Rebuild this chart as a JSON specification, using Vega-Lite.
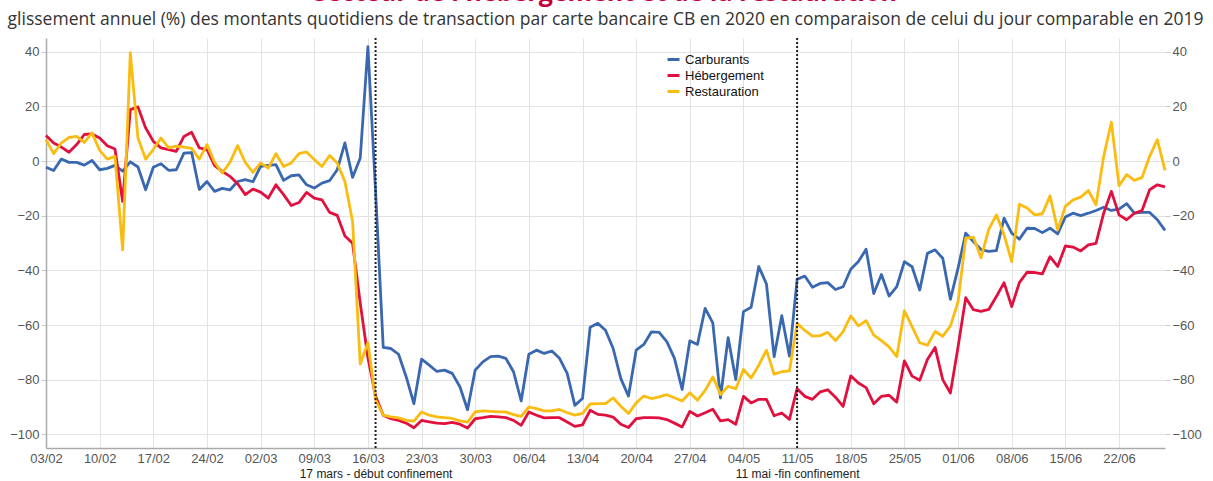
{
  "$schema": "https://vega.github.io/schema/vega-lite/v6.json",
  "width": 1119,
  "height": 410,
  "autosize": "none",
  "padding": {"left": 46, "top": 38, "right": 48, "bottom": 33},
  "background": "white",
  "title": {
    "text": "secteur de l'hébergement et de la restauration",
    "subtitle": "glissement annuel (%) des montants quotidiens de transaction par carte bancaire CB en 2020 en comparaison de celui du jour comparable en 2019",
    "anchor": "middle",
    "font": "Open Sans",
    "fontSize": 25,
    "fontWeight": "bold",
    "color": "#c4003c",
    "subtitleFont": "Open Sans",
    "subtitleFontSize": 17.5,
    "subtitleColor": "#333333",
    "subtitlePadding": 5,
    "offset": 9
  },
  "config": {
    "view": {"stroke": null},
    "axis": {"labelFont": "Liberation Sans", "labelColor": "#555555", "labelFontSize": 13, "gridColor": "#e3e3e3", "gridWidth": 1}
  },
  "datasets": {
    "series": [
      {"d":"2020-02-03","Carburants":-2.3,"Hébergement":9.3,"Restauration":7.8},
      {"d":"2020-02-04","Carburants":-3.5,"Hébergement":6.6,"Restauration":2.7},
      {"d":"2020-02-05","Carburants":0.7,"Hébergement":5.1,"Restauration":6.6},
      {"d":"2020-02-06","Carburants":-0.5,"Hébergement":3.2,"Restauration":8.6},
      {"d":"2020-02-07","Carburants":-0.5,"Hébergement":6.0,"Restauration":9.0},
      {"d":"2020-02-08","Carburants":-1.5,"Hébergement":9.7,"Restauration":6.8},
      {"d":"2020-02-09","Carburants":0.2,"Hébergement":9.9,"Restauration":10.3},
      {"d":"2020-02-10","Carburants":-3.2,"Hébergement":8.4,"Restauration":3.9},
      {"d":"2020-02-11","Carburants":-2.7,"Hébergement":5.6,"Restauration":0.7},
      {"d":"2020-02-12","Carburants":-1.6,"Hébergement":4.4,"Restauration":1.7},
      {"d":"2020-02-13","Carburants":-3.7,"Hébergement":-14.8,"Restauration":-32.5},
      {"d":"2020-02-14","Carburants":-0.3,"Hébergement":18.8,"Restauration":39.6},
      {"d":"2020-02-15","Carburants":-2.2,"Hébergement":19.8,"Restauration":8.4},
      {"d":"2020-02-16","Carburants":-10.5,"Hébergement":12.1,"Restauration":0.7},
      {"d":"2020-02-17","Carburants":-2.3,"Hébergement":7.2,"Restauration":4.2},
      {"d":"2020-02-18","Carburants":-1.0,"Hébergement":4.8,"Restauration":8.4},
      {"d":"2020-02-19","Carburants":-3.4,"Hébergement":4.2,"Restauration":4.8},
      {"d":"2020-02-20","Carburants":-3.2,"Hébergement":3.5,"Restauration":5.4},
      {"d":"2020-02-21","Carburants":2.9,"Hébergement":9.0,"Restauration":5.1},
      {"d":"2020-02-22","Carburants":3.1,"Hébergement":10.5,"Restauration":4.6},
      {"d":"2020-02-23","Carburants":-10.4,"Hébergement":4.8,"Restauration":0.7},
      {"d":"2020-02-24","Carburants":-7.5,"Hébergement":4.2,"Restauration":6.0},
      {"d":"2020-02-25","Carburants":-11.1,"Hébergement":-1.7,"Restauration":-0.5},
      {"d":"2020-02-26","Carburants":-10.0,"Hébergement":-3.8,"Restauration":-4.4},
      {"d":"2020-02-27","Carburants":-10.6,"Hébergement":-5.6,"Restauration":-0.5},
      {"d":"2020-02-28","Carburants":-7.5,"Hébergement":-8.3,"Restauration":5.6},
      {"d":"2020-02-29","Carburants":-6.8,"Hébergement":-12.3,"Restauration":-0.5},
      {"d":"2020-03-01","Carburants":-7.6,"Hébergement":-10.3,"Restauration":-4.2},
      {"d":"2020-03-02","Carburants":-2.0,"Hébergement":-11.4,"Restauration":-0.7},
      {"d":"2020-03-03","Carburants":-1.6,"Hébergement":-13.6,"Restauration":-2.6},
      {"d":"2020-03-04","Carburants":-1.3,"Hébergement":-8.7,"Restauration":2.7},
      {"d":"2020-03-05","Carburants":-7.1,"Hébergement":-12.3,"Restauration":-2.0},
      {"d":"2020-03-06","Carburants":-5.4,"Hébergement":-16.3,"Restauration":-0.7},
      {"d":"2020-03-07","Carburants":-5.1,"Hébergement":-15.2,"Restauration":2.7},
      {"d":"2020-03-08","Carburants":-8.7,"Hébergement":-11.5,"Restauration":3.3},
      {"d":"2020-03-09","Carburants":-9.9,"Hébergement":-13.6,"Restauration":0.5},
      {"d":"2020-03-10","Carburants":-8.1,"Hébergement":-14.2,"Restauration":-2.0},
      {"d":"2020-03-11","Carburants":-7.2,"Hébergement":-18.8,"Restauration":2.0},
      {"d":"2020-03-12","Carburants":-3.2,"Hébergement":-19.9,"Restauration":-0.7},
      {"d":"2020-03-13","Carburants":6.6,"Hébergement":-27.4,"Restauration":-7.5},
      {"d":"2020-03-14","Carburants":-6.0,"Hébergement":-30.1,"Restauration":-22.1},
      {"d":"2020-03-15","Carburants":1.1,"Hébergement":-52.0,"Restauration":-74.3},
      {"d":"2020-03-16","Carburants":41.8,"Hébergement":-72.0,"Restauration":-66.5},
      {"d":"2020-03-17","Carburants":-11.0,"Hébergement":-86.0,"Restauration":-87.4},
      {"d":"2020-03-18","Carburants":-68.2,"Hébergement":-93.0,"Restauration":-93.0},
      {"d":"2020-03-19","Carburants":-68.6,"Hébergement":-94.3,"Restauration":-93.6},
      {"d":"2020-03-20","Carburants":-70.7,"Hébergement":-94.9,"Restauration":-94.0},
      {"d":"2020-03-21","Carburants":-79.0,"Hébergement":-95.9,"Restauration":-94.9},
      {"d":"2020-03-22","Carburants":-88.8,"Hébergement":-97.6,"Restauration":-95.2},
      {"d":"2020-03-23","Carburants":-72.5,"Hébergement":-94.9,"Restauration":-91.8},
      {"d":"2020-03-24","Carburants":-74.7,"Hébergement":-95.4,"Restauration":-93.0},
      {"d":"2020-03-25","Carburants":-77.0,"Hébergement":-95.9,"Restauration":-93.6},
      {"d":"2020-03-26","Carburants":-76.5,"Hébergement":-96.1,"Restauration":-93.9},
      {"d":"2020-03-27","Carburants":-77.7,"Hébergement":-95.6,"Restauration":-94.2},
      {"d":"2020-03-28","Carburants":-82.6,"Hébergement":-96.3,"Restauration":-95.1},
      {"d":"2020-03-29","Carburants":-91.0,"Hébergement":-97.7,"Restauration":-95.5},
      {"d":"2020-03-30","Carburants":-76.5,"Hébergement":-94.3,"Restauration":-91.8},
      {"d":"2020-03-31","Carburants":-73.5,"Hébergement":-93.9,"Restauration":-91.4},
      {"d":"2020-04-01","Carburants":-71.6,"Hébergement":-93.4,"Restauration":-91.6},
      {"d":"2020-04-02","Carburants":-71.4,"Hébergement":-93.6,"Restauration":-91.8},
      {"d":"2020-04-03","Carburants":-72.2,"Hébergement":-93.9,"Restauration":-91.8},
      {"d":"2020-04-04","Carburants":-77.1,"Hébergement":-94.9,"Restauration":-92.8},
      {"d":"2020-04-05","Carburants":-87.8,"Hébergement":-96.7,"Restauration":-93.4},
      {"d":"2020-04-06","Carburants":-70.7,"Hébergement":-91.8,"Restauration":-90.0},
      {"d":"2020-04-07","Carburants":-69.2,"Hébergement":-93.0,"Restauration":-90.6},
      {"d":"2020-04-08","Carburants":-70.4,"Hébergement":-94.0,"Restauration":-91.4},
      {"d":"2020-04-09","Carburants":-69.5,"Hébergement":-93.9,"Restauration":-91.4},
      {"d":"2020-04-10","Carburants":-72.2,"Hébergement":-93.9,"Restauration":-90.9},
      {"d":"2020-04-11","Carburants":-77.7,"Hébergement":-95.5,"Restauration":-92.1},
      {"d":"2020-04-12","Carburants":-89.4,"Hébergement":-97.1,"Restauration":-93.0},
      {"d":"2020-04-13","Carburants":-86.9,"Hébergement":-96.5,"Restauration":-92.3},
      {"d":"2020-04-14","Carburants":-60.8,"Hébergement":-91.2,"Restauration":-88.9},
      {"d":"2020-04-15","Carburants":-59.4,"Hébergement":-92.7,"Restauration":-88.8},
      {"d":"2020-04-16","Carburants":-61.9,"Hébergement":-93.0,"Restauration":-88.8},
      {"d":"2020-04-17","Carburants":-68.6,"Hébergement":-93.7,"Restauration":-86.7},
      {"d":"2020-04-18","Carburants":-79.6,"Hébergement":-96.3,"Restauration":-89.7},
      {"d":"2020-04-19","Carburants":-86.0,"Hébergement":-97.5,"Restauration":-92.4},
      {"d":"2020-04-20","Carburants":-69.2,"Hébergement":-94.3,"Restauration":-88.5},
      {"d":"2020-04-21","Carburants":-67.1,"Hébergement":-93.9,"Restauration":-86.0},
      {"d":"2020-04-22","Carburants":-62.5,"Hébergement":-93.9,"Restauration":-86.9},
      {"d":"2020-04-23","Carburants":-62.7,"Hébergement":-94.0,"Restauration":-86.3},
      {"d":"2020-04-24","Carburants":-66.1,"Hébergement":-94.6,"Restauration":-85.5},
      {"d":"2020-04-25","Carburants":-72.2,"Hébergement":-95.9,"Restauration":-86.6},
      {"d":"2020-04-26","Carburants":-83.6,"Hébergement":-97.3,"Restauration":-87.8},
      {"d":"2020-04-27","Carburants":-65.8,"Hébergement":-91.6,"Restauration":-84.8},
      {"d":"2020-04-28","Carburants":-67.1,"Hébergement":-93.3,"Restauration":-87.5},
      {"d":"2020-04-29","Carburants":-53.9,"Hébergement":-92.1,"Restauration":-83.9},
      {"d":"2020-04-30","Carburants":-59.2,"Hébergement":-90.8,"Restauration":-79.0},
      {"d":"2020-05-01","Carburants":-86.7,"Hébergement":-95.1,"Restauration":-85.4},
      {"d":"2020-05-02","Carburants":-64.6,"Hébergement":-94.6,"Restauration":-82.4},
      {"d":"2020-05-03","Carburants":-80.0,"Hébergement":-96.3,"Restauration":-83.3},
      {"d":"2020-05-04","Carburants":-55.1,"Hébergement":-86.1,"Restauration":-76.3},
      {"d":"2020-05-05","Carburants":-53.5,"Hébergement":-88.5,"Restauration":-79.4},
      {"d":"2020-05-06","Carburants":-38.6,"Hébergement":-87.2,"Restauration":-74.7},
      {"d":"2020-05-07","Carburants":-45.0,"Hébergement":-87.2,"Restauration":-69.2},
      {"d":"2020-05-08","Carburants":-71.6,"Hébergement":-93.2,"Restauration":-78.0},
      {"d":"2020-05-09","Carburants":-56.6,"Hébergement":-92.2,"Restauration":-77.1},
      {"d":"2020-05-10","Carburants":-71.4,"Hébergement":-94.5,"Restauration":-76.8},
      {"d":"2020-05-11","Carburants":-43.3,"Hébergement":-83.3,"Restauration":-59.4},
      {"d":"2020-05-12","Carburants":-42.1,"Hébergement":-86.1,"Restauration":-62.0},
      {"d":"2020-05-13","Carburants":-46.2,"Hébergement":-87.2,"Restauration":-64.1},
      {"d":"2020-05-14","Carburants":-44.8,"Hébergement":-84.5,"Restauration":-63.9},
      {"d":"2020-05-15","Carburants":-44.5,"Hébergement":-83.7,"Restauration":-62.7},
      {"d":"2020-05-16","Carburants":-47.0,"Hébergement":-86.4,"Restauration":-65.7},
      {"d":"2020-05-17","Carburants":-46.0,"Hébergement":-89.8,"Restauration":-62.4},
      {"d":"2020-05-18","Carburants":-39.6,"Hébergement":-78.6,"Restauration":-56.7},
      {"d":"2020-05-19","Carburants":-36.8,"Hébergement":-81.2,"Restauration":-60.3},
      {"d":"2020-05-20","Carburants":-32.3,"Hébergement":-82.9,"Restauration":-58.4},
      {"d":"2020-05-21","Carburants":-48.5,"Hébergement":-88.8,"Restauration":-63.7},
      {"d":"2020-05-22","Carburants":-41.5,"Hébergement":-86.1,"Restauration":-65.7},
      {"d":"2020-05-23","Carburants":-49.4,"Hébergement":-85.7,"Restauration":-68.0},
      {"d":"2020-05-24","Carburants":-46.0,"Hébergement":-88.2,"Restauration":-71.6},
      {"d":"2020-05-25","Carburants":-36.8,"Hébergement":-73.1,"Restauration":-54.8},
      {"d":"2020-05-26","Carburants":-38.7,"Hébergement":-78.7,"Restauration":-60.6},
      {"d":"2020-05-27","Carburants":-47.2,"Hébergement":-80.2,"Restauration":-66.5},
      {"d":"2020-05-28","Carburants":-33.8,"Hébergement":-72.6,"Restauration":-67.4},
      {"d":"2020-05-29","Carburants":-32.5,"Hébergement":-68.2,"Restauration":-62.4},
      {"d":"2020-05-30","Carburants":-35.6,"Hébergement":-80.0,"Restauration":-64.1},
      {"d":"2020-05-31","Carburants":-50.6,"Hébergement":-84.9,"Restauration":-60.4},
      {"d":"2020-06-01","Carburants":-39.2,"Hébergement":-68.0,"Restauration":-51.5},
      {"d":"2020-06-02","Carburants":-26.4,"Hébergement":-50.0,"Restauration":-28.2},
      {"d":"2020-06-03","Carburants":-29.5,"Hébergement":-54.4,"Restauration":-27.9},
      {"d":"2020-06-04","Carburants":-32.4,"Hébergement":-55.0,"Restauration":-35.4},
      {"d":"2020-06-05","Carburants":-33.1,"Hébergement":-54.3,"Restauration":-25.0},
      {"d":"2020-06-06","Carburants":-32.8,"Hébergement":-49.6,"Restauration":-19.7},
      {"d":"2020-06-07","Carburants":-20.9,"Hébergement":-44.5,"Restauration":-27.0},
      {"d":"2020-06-08","Carburants":-26.4,"Hébergement":-53.3,"Restauration":-36.8},
      {"d":"2020-06-09","Carburants":-28.6,"Hébergement":-44.5,"Restauration":-15.8},
      {"d":"2020-06-10","Carburants":-24.6,"Hébergement":-40.7,"Restauration":-17.2},
      {"d":"2020-06-11","Carburants":-24.7,"Hébergement":-40.8,"Restauration":-19.7},
      {"d":"2020-06-12","Carburants":-26.2,"Hébergement":-41.3,"Restauration":-19.3},
      {"d":"2020-06-13","Carburants":-24.6,"Hébergement":-35.0,"Restauration":-12.7},
      {"d":"2020-06-14","Carburants":-26.7,"Hébergement":-38.6,"Restauration":-25.2},
      {"d":"2020-06-15","Carburants":-20.5,"Hébergement":-31.1,"Restauration":-16.6},
      {"d":"2020-06-16","Carburants":-19.1,"Hébergement":-31.5,"Restauration":-14.2},
      {"d":"2020-06-17","Carburants":-20.0,"Hébergement":-32.9,"Restauration":-13.2},
      {"d":"2020-06-18","Carburants":-19.1,"Hébergement":-30.7,"Restauration":-10.8},
      {"d":"2020-06-19","Carburants":-18.1,"Hébergement":-30.1,"Restauration":-16.0},
      {"d":"2020-06-20","Carburants":-16.9,"Hébergement":-19.1,"Restauration":1.7},
      {"d":"2020-06-21","Carburants":-18.1,"Hébergement":-11.1,"Restauration":14.2},
      {"d":"2020-06-22","Carburants":-17.6,"Hébergement":-19.7,"Restauration":-9.0},
      {"d":"2020-06-23","Carburants":-15.6,"Hébergement":-21.5,"Restauration":-5.0},
      {"d":"2020-06-24","Carburants":-19.1,"Hébergement":-19.1,"Restauration":-7.1},
      {"d":"2020-06-25","Carburants":-18.8,"Hébergement":-18.1,"Restauration":-6.0},
      {"d":"2020-06-26","Carburants":-18.8,"Hébergement":-10.5,"Restauration":1.7},
      {"d":"2020-06-27","Carburants":-21.5,"Hébergement":-8.7,"Restauration":7.8},
      {"d":"2020-06-28","Carburants":-25.4,"Hébergement":-9.5,"Restauration":-3.4}
    ],
    "events": [
      {"d":"2020-03-17","label":"17 mars - début confinement"},
      {"d":"2020-05-11","label":"11 mai -fin confinement"}
    ]
  },
  "layer": [
    {
      "data": {"name": "series"},
      "transform": [{"fold": ["Carburants", "Hébergement", "Restauration"], "as": ["serie", "valeur"]}],
      "mark": {"type": "line", "strokeWidth": 2.8, "strokeJoin": "round", "clip": false},
      "encoding": {
        "x": {
          "field": "d", "type": "temporal",
          "scale": {"type": "utc", "domain": [{"year":2020,"month":2,"date":3,"utc":true},{"year":2020,"month":6,"date":28,"utc":true}], "nice": false},
          "axis": {
            "title": null, "format": "%d/%m", "orient": "bottom",
            "values": [
              {"year":2020,"month":2,"date":3,"utc":true},{"year":2020,"month":2,"date":10,"utc":true},{"year":2020,"month":2,"date":17,"utc":true},{"year":2020,"month":2,"date":24,"utc":true},
              {"year":2020,"month":3,"date":2,"utc":true},{"year":2020,"month":3,"date":9,"utc":true},{"year":2020,"month":3,"date":16,"utc":true},{"year":2020,"month":3,"date":23,"utc":true},{"year":2020,"month":3,"date":30,"utc":true},
              {"year":2020,"month":4,"date":6,"utc":true},{"year":2020,"month":4,"date":13,"utc":true},{"year":2020,"month":4,"date":20,"utc":true},{"year":2020,"month":4,"date":27,"utc":true},
              {"year":2020,"month":5,"date":4,"utc":true},{"year":2020,"month":5,"date":11,"utc":true},{"year":2020,"month":5,"date":18,"utc":true},{"year":2020,"month":5,"date":25,"utc":true},
              {"year":2020,"month":6,"date":1,"utc":true},{"year":2020,"month":6,"date":8,"utc":true},{"year":2020,"month":6,"date":15,"utc":true},{"year":2020,"month":6,"date":22,"utc":true}
            ],
            "grid": true, "ticks": false, "tickSize": 0, "labelPadding": 4,
            "domain": true, "domainColor": "#aaaaaa", "domainWidth": 1.5,
            "labelOverlap": false, "labelFlush": false
          }
        },
        "y": {
          "field": "valeur", "type": "quantitative",
          "scale": {"domain": [-105, 45], "nice": false, "zero": false},
          "axis": {
            "title": null, "orient": "left",
            "values": [-100, -80, -60, -40, -20, 0, 20, 40],
            "grid": true, "domain": true, "domainColor": "#aaaaaa", "domainWidth": 1.5,
            "tickSize": 5, "tickColor": "#cccccc", "labelPadding": 2
          }
        },
        "color": {
          "field": "serie", "type": "nominal",
          "scale": {"domain": ["Carburants", "Hébergement", "Restauration"], "range": ["#3a68b0", "#e0103f", "#fbbc12"]},
          "legend": {
            "title": null, "orient": "none", "legendX": 620, "legendY": 14,
            "symbolType": "stroke", "symbolStrokeWidth": 3, "symbolSize": 144,
            "labelFont": "Liberation Sans", "labelFontSize": 13, "labelColor": "#111111",
            "rowPadding": 1, "labelOffset": 4, "padding": 0
          }
        }
      }
    },
    {
      "data": {"name": "events"},
      "mark": {"type": "rule", "color": "#222222", "strokeWidth": 2, "strokeDash": [2, 2]},
      "encoding": {
        "x": {
          "field": "d", "type": "temporal",
          "axis": {
            "title": null, "orient": "bottom",
            "values": [{"year":2020,"month":3,"date":17,"utc":true},{"year":2020,"month":5,"date":11,"utc":true}],
            "labelExpr": "utcmonth(datum.value) == 2 ? '17 mars - début confinement' : '11 mai -fin confinement'",
            "grid": false, "ticks": false, "tickSize": 0, "domain": false,
            "labelPadding": 20, "labelFontSize": 12, "labelColor": "#222222", "labelOverlap": false, "labelFlush": false
          }
        },
        "y": {
          "datum": -105, "type": "quantitative",
          "axis": {
            "title": null, "orient": "right",
            "values": [-100, -80, -60, -40, -20, 0, 20, 40],
            "grid": false, "domain": false, "tickSize": 5, "tickColor": "#cccccc", "labelPadding": 2
          }
        },
        "y2": {"datum": 45}
      }
    }
  ],
  "resolve": {"axis": {"x": "independent", "y": "independent"}}
}
